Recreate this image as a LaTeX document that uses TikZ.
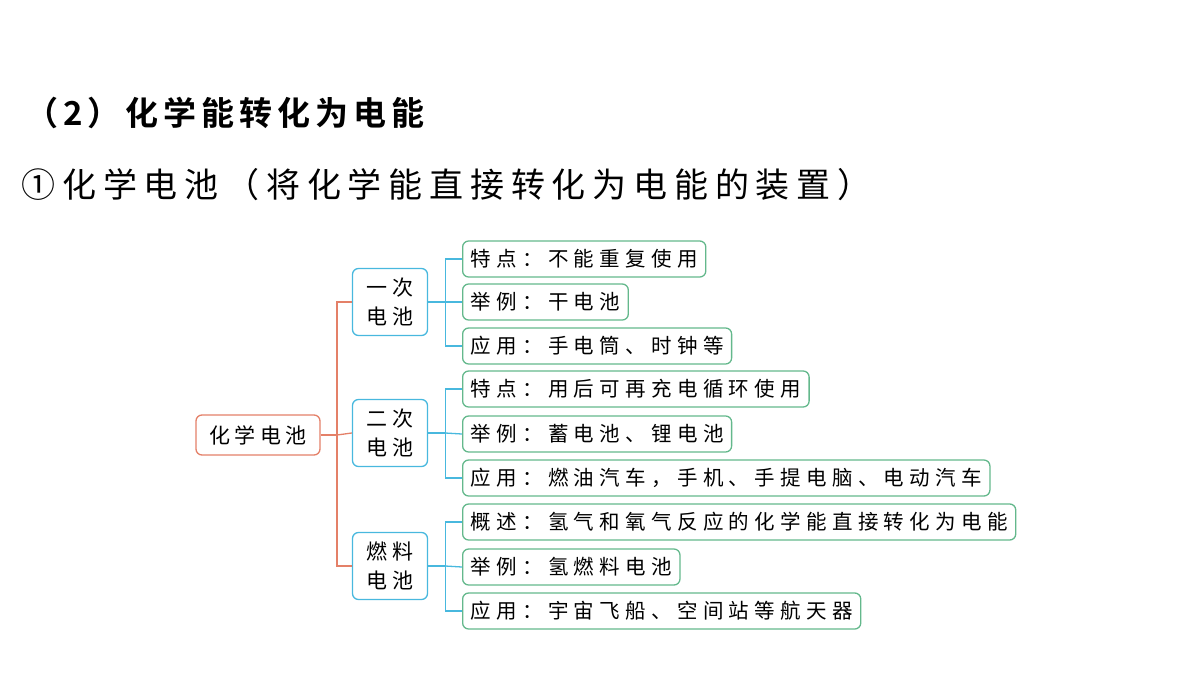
\documentclass[tikz,border=0pt]{standalone}
\usepackage{fontspec}
\setmainfont{Noto Sans CJK SC}
\newfontfamily\cjk[LetterSpace=20]{Noto Sans CJK SC}
\newfontfamily\cjkl[LetterSpace=26]{Noto Sans CJK SC}
\newfontfamily\cjkb[LetterSpace=15]{Noto Sans CJK SC Bold}
\definecolor{oc}{RGB}{228,128,104}
\definecolor{bc}{RGB}{72,184,222}
\definecolor{gc}{RGB}{100,184,140}
\begin{document}
\begin{tikzpicture}[x=1pt,y=-1pt,
  root/.style={draw=oc,line width=1.3pt,rounded corners=6pt,minimum width=124pt,minimum height=40pt,font=\fontsize{21}{22}\cjk},
  mid/.style={draw=bc,line width=1.3pt,rounded corners=6pt,minimum width=75pt,minimum height=67pt,align=center,font=\fontsize{21}{29}\cjk},
  leaf/.style={draw=gc,line width=1.3pt,rounded corners=6pt,minimum height=36pt,anchor=west,inner xsep=8pt,font=\fontsize{20.5}{22}\cjkl},
  ob/.style={draw=oc,line width=1.3pt},
  bb/.style={draw=bc,line width=1.3pt}]
\useasboundingbox (0,0) rectangle (1200,675);
\node[anchor=west,font=\fontsize{33}{36}\cjkb] (t1) at (22,113) {（2）化学能转化为电能};
\node[anchor=west,font=\fontsize{34}{38}\cjk] (t2) at (18,185) {①化学电池（将化学能直接转化为电能的装置）};
\node[root] (r) at (258,435) {化学电池};
\node[mid] (m1) at (390,302) {一次\\电池};
\node[mid] (m2) at (390,433) {二次\\电池};
\node[mid] (m3) at (390,566) {燃料\\电池};
\coordinate (ob) at (337,435);
\draw[ob] (r.east) -- (ob);
\draw[ob] (m1.west) -| (ob) |- (m3.west);
\draw[ob] (ob) -- (m2.west);
\node[leaf] (a1) at (462,259) {特点：不能重复使用};
\node[leaf] (a2) at (462,302) {举例：干电池};
\node[leaf] (a3) at (462,346) {应用：手电筒、时钟等};
\node[leaf] (b1) at (462,389) {特点：用后可再充电循环使用};
\node[leaf] (b2) at (462,434) {举例：蓄电池、锂电池};
\node[leaf] (b3) at (462,478) {应用：燃油汽车，手机、手提电脑、电动汽车};
\node[leaf] (c1) at (462,522) {概述：氢气和氧气反应的化学能直接转化为电能};
\node[leaf] (c2) at (462,567) {举例：氢燃料电池};
\node[leaf] (c3) at (462,611) {应用：宇宙飞船、空间站等航天器};
\foreach \m/\a/\b/\c in {m1/a1/a2/a3,m2/b1/b2/b3,m3/c1/c2/c3}{
  \coordinate (j) at ([xshift=17pt]\m.east);
  \draw[bb] (\m.east) -- (j);
  \draw[bb] (\a.west) -| (j) |- (\c.west);
  \draw[bb] (j) -- (\b.west);
}
\end{tikzpicture}
\end{document}
